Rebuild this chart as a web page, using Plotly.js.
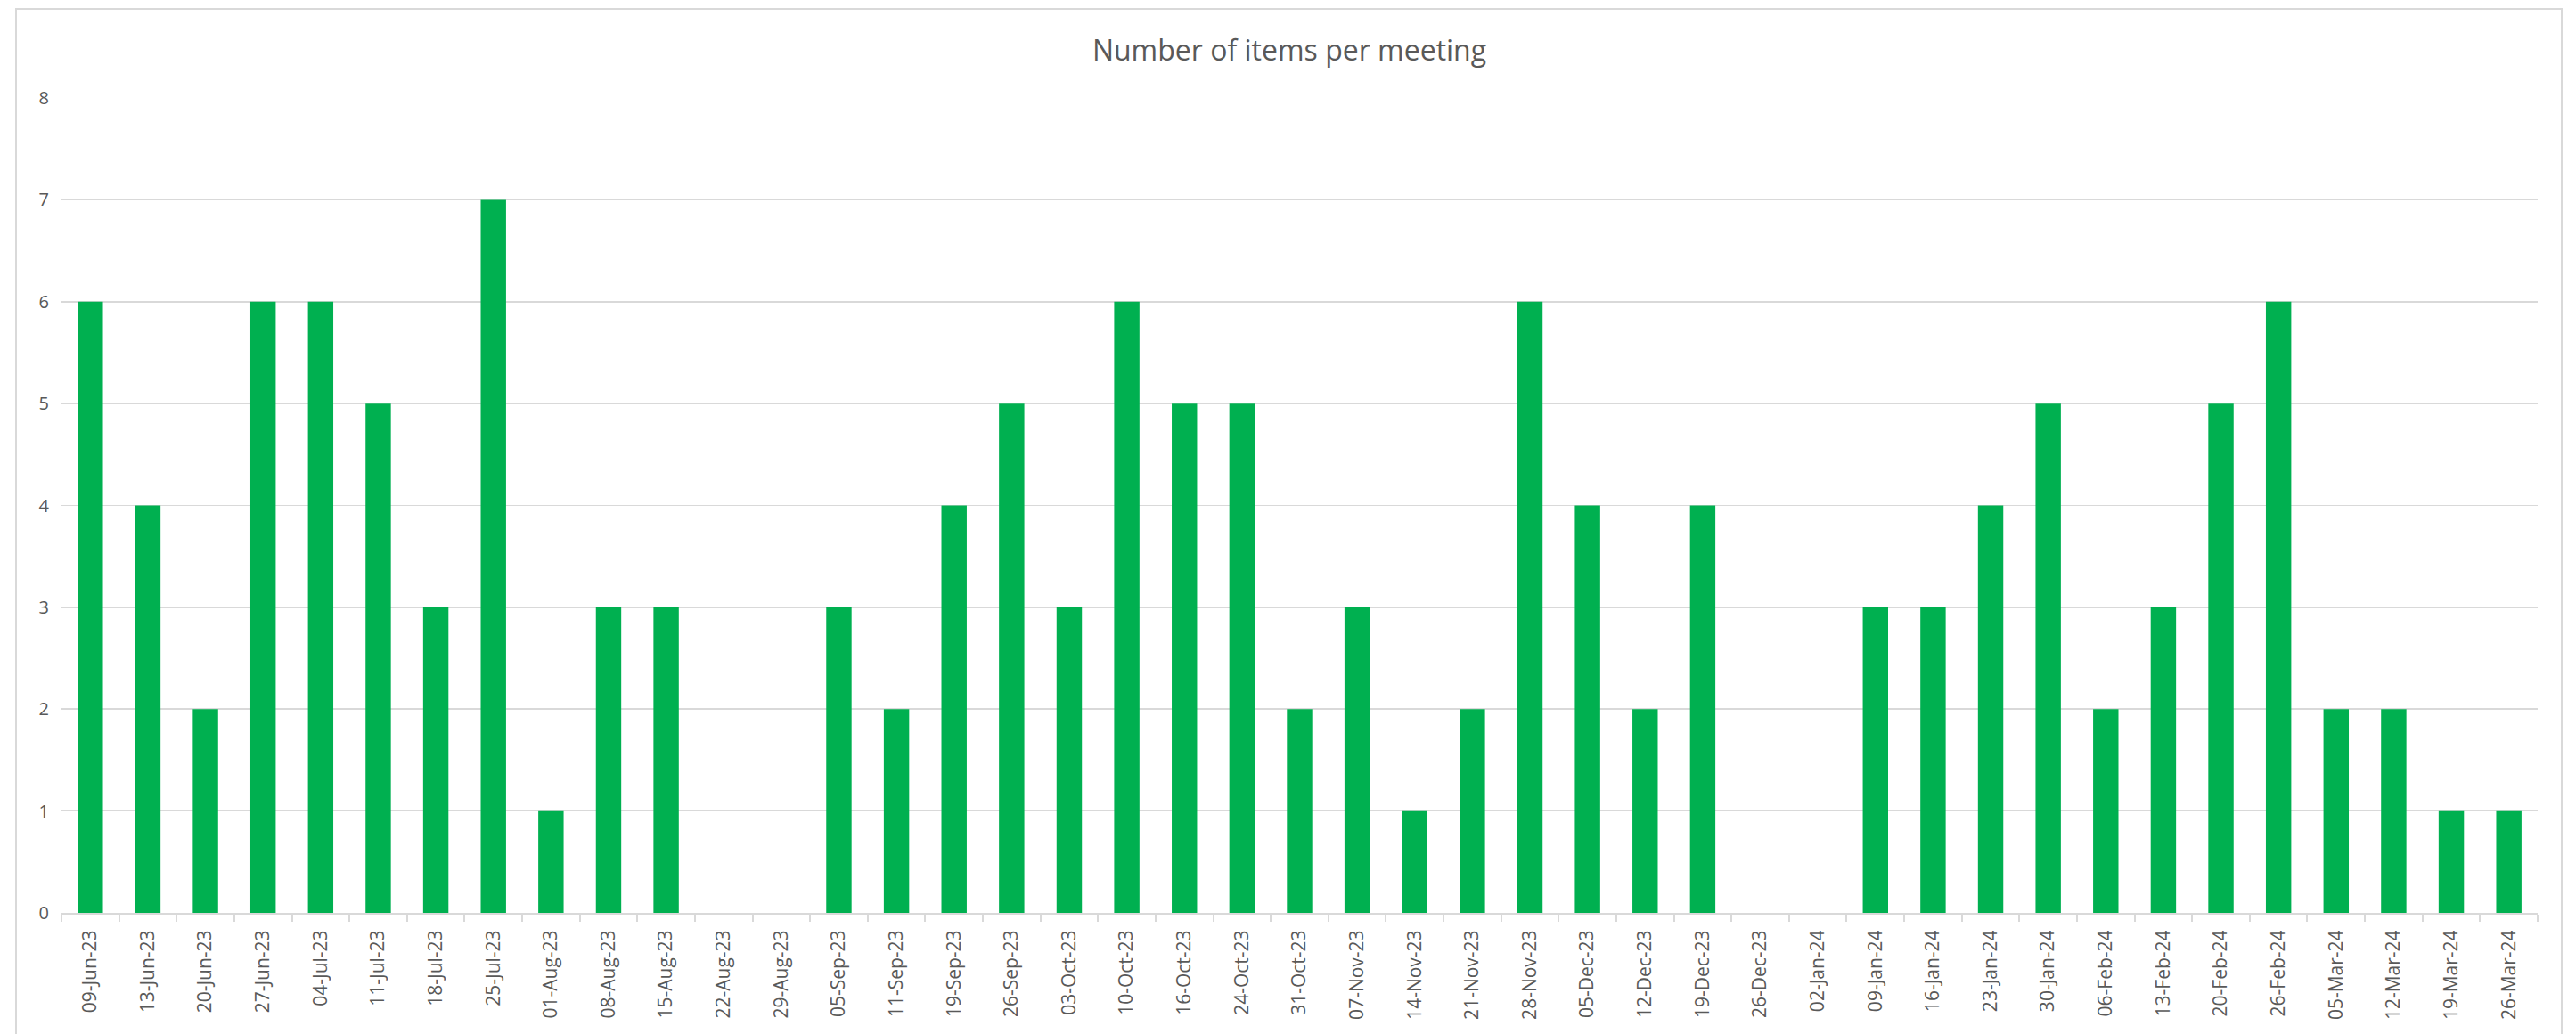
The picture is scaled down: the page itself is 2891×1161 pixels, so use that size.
<!DOCTYPE html>
<html>
<head>
<meta charset="utf-8">
<script src="https://cdn.plot.ly/plotly-3.0.1.min.js"></script>
<style>
  html, body { margin: 0; padding: 0; background: #ffffff; overflow: hidden; }
  #wrap { position: relative; width: 2891px; height: 1161px; }
  #frame { position: absolute; left: 17px; top: 9px; width: 2859px; height: 1200px; border: 2px solid #d9d9d9; box-sizing: border-box; pointer-events: none; }
  #chart { position: absolute; left: 0; top: 0; width: 2891px; height: 1161px; }
</style>
</head>
<body>
<div id="wrap">
  <div id="chart"></div>
  <div id="frame"></div>
</div>
<script>
const chartTitle = 'Number of items per meeting';

const meetingDates = [
  '09-Jun-23', '13-Jun-23', '20-Jun-23', '27-Jun-23', '04-Jul-23', '11-Jul-23',
  '18-Jul-23', '25-Jul-23', '01-Aug-23', '08-Aug-23', '15-Aug-23', '22-Aug-23',
  '29-Aug-23', '05-Sep-23', '11-Sep-23', '19-Sep-23', '26-Sep-23', '03-Oct-23',
  '10-Oct-23', '16-Oct-23', '24-Oct-23', '31-Oct-23', '07-Nov-23', '14-Nov-23',
  '21-Nov-23', '28-Nov-23', '05-Dec-23', '12-Dec-23', '19-Dec-23', '26-Dec-23',
  '02-Jan-24', '09-Jan-24', '16-Jan-24', '23-Jan-24', '30-Jan-24', '06-Feb-24',
  '13-Feb-24', '20-Feb-24', '26-Feb-24', '05-Mar-24', '12-Mar-24', '19-Mar-24',
  '26-Mar-24'
];

const itemsPerMeeting = [
  6, 4, 2, 6, 6, 5,
  3, 7, 1, 3, 3, 0,
  0, 3, 2, 4, 5, 3,
  6, 5, 5, 2, 3, 1,
  2, 6, 4, 2, 4, 0,
  0, 3, 3, 4, 5, 2,
  3, 5, 6, 2, 2, 1,
  1
];

const yTicks = [0, 1, 2, 3, 4, 5, 6, 7, 8];

const textColor = '#595959';
const gridColor = '#d9d9d9';
const barColor = '#00b050';
const fontFamily = '"Open Sans", "Noto Sans", "Liberation Sans", sans-serif';

const data = [{
  type: 'bar',
  x: meetingDates,
  y: itemsPerMeeting,
  width: 0.44,
  marker: { color: barColor, line: { width: 0 } },
  hoverinfo: 'x+y'
}];

const layout = {
  width: 2891,
  height: 1161,
  paper_bgcolor: 'rgba(0,0,0,0)',
  plot_bgcolor: 'rgba(0,0,0,0)',
  margin: { l: 69, r: 43, t: 110, b: 136, pad: 0 },
  showlegend: false,
  bargap: 0.56,
  title: {
    text: chartTitle,
    font: { family: fontFamily, size: 32, color: textColor },
    xref: 'container', x: 1447 / 2891, xanchor: 'center',
    yref: 'container', y: 1 - 57 / 1161, yanchor: 'middle'
  },
  xaxis: {
    type: 'category',
    categoryorder: 'array',
    categoryarray: meetingDates,
    tickangle: -90,
    tickson: 'boundaries',
    ticks: 'outside',
    ticklen: 8,
    tickwidth: 2,
    tickcolor: gridColor,
    ticklabelstandoff: 9,
    showline: true,
    linecolor: gridColor,
    linewidth: 2,
    showgrid: false,
    zeroline: false,
    tickfont: { family: fontFamily, size: 21, color: textColor },
    automargin: false
  },
  yaxis: {
    range: [0, 8],
    tickvals: yTicks,
    ticktext: yTicks.map(String),
    showgrid: true,
    gridcolor: gridColor,
    gridwidth: 1.7,
    zeroline: false,
    showline: false,
    ticks: '',
    ticklabelstandoff: 13,
    tickfont: { family: fontFamily, size: 20, color: textColor },
    automargin: false
  }
};

Plotly.newPlot('chart', data, layout, { displayModeBar: false, staticPlot: true });
</script>
</body>
</html>
